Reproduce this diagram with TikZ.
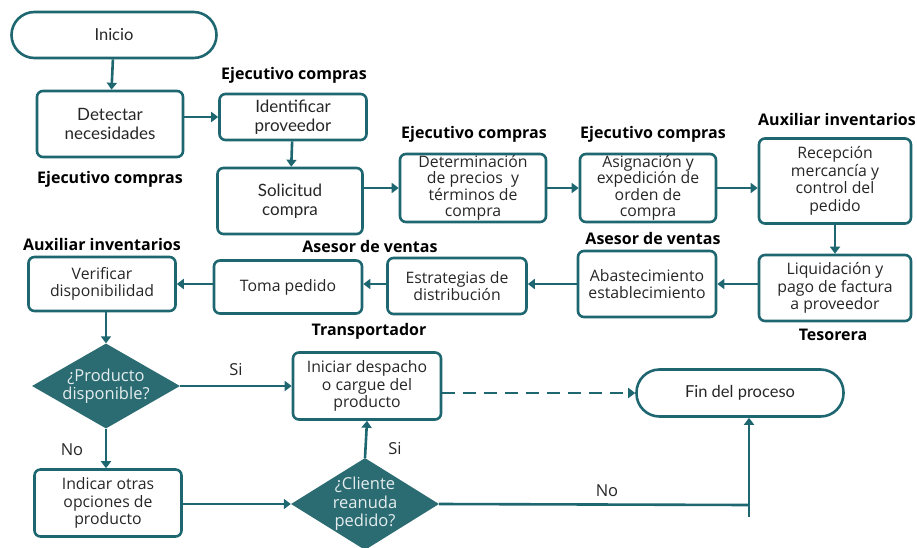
\documentclass[tikz,border=0pt]{standalone}
\usepackage{fontspec}
\setmainfont{Open Sans}
\newfontfamily\latofont{Lato}
\usetikzlibrary{arrows.meta,shapes.geometric}
\definecolor{teal1}{HTML}{1E6770}
\definecolor{tealfill}{HTML}{2B6B72}
\definecolor{txt}{HTML}{262626}
\tikzset{
  x=1pt, y=-1pt,
  box/.style={draw=teal1, line width=2.6pt, rounded corners=6pt, align=center,
    inner sep=1pt, font=\fontsize{15.8}{17.6}\selectfont, text=txt},
  tightbox/.style={box, inner sep=0pt, font=\fontsize{15.8}{16.4}\selectfont},
  lbox/.style={box, font=\latofont\fontsize{17}{18.5}\selectfont},
  term/.style={box, rounded corners=23pt, font=\latofont\fontsize{16.5}{18}\selectfont},
  dec/.style={diamond, fill=tealfill, draw=none, inner sep=0pt},
  dectext/.style={align=center, inner sep=0pt, font=\fontsize{16.5}{18.5}\selectfont, text=white!88!teal1},
  role/.style={font=\bfseries\fontsize{16}{18}\selectfont, text=black},
  lbl/.style={font=\fontsize{16.5}{18}\selectfont, text=txt},
  flow/.style={draw=teal1, line width=2.6pt, -{Triangle[length=7pt,width=10pt]}},
  plain/.style={draw=teal1, line width=2.6pt}
}
\begin{document}
\begin{tikzpicture}
\useasboundingbox (0,0) rectangle (917,548);
\begin{scope}
\clip (0,0) rectangle (917,548);

% process steps
\node[term, minimum width=205pt, minimum height=46pt] (ini) at (114,35) {Inicio};
\node[lbox, minimum width=146pt, minimum height=66pt] (det) at (110,124) {Detectar\\necesidades};
\node[lbox, minimum width=147pt, minimum height=46pt] (ide) at (293,117) {Identificar\\proveedor};
\node[lbox, minimum width=145pt, minimum height=66pt] (sol) at (290,201) {Solicitud\\compra};
\node[tightbox, minimum width=146pt, minimum height=68pt] (pre) at (473,188) {Determinación\\de precios\ \ y\\términos de\\compra};
\node[tightbox, minimum width=136pt, minimum height=68pt] (asi) at (648,188) {Asignación y\\expedición de\\orden de\\compra};
\node[box, minimum width=152pt, minimum height=85pt] (rec) at (835,181) {Recepción\\mercancía y\\control del\\pedido};
\node[box, minimum width=152pt, minimum height=66pt] (liq) at (835,288) {Liquidación y\\pago de factura\\a proveedor};
\node[box, minimum width=138pt, minimum height=66pt] (aba) at (647,284) {Abastecimiento\\establecimiento};
\node[box, minimum width=139pt, minimum height=56pt] (est) at (457,286) {Estrategias de\\distribución};
\node[box, minimum width=148pt, minimum height=53pt] (tom) at (288,287) {Toma pedido};
\node[box, minimum width=147pt, minimum height=54pt] (ver) at (102,284) {Verificar\\disponibilidad};
\node[dec, minimum width=148pt, minimum height=85pt,
  label={[dectext]center:{¿Producto\\disponible?}}] (d1) at (106,386) {};
\node[box, minimum width=148pt, minimum height=67pt] (des) at (367,386) {Iniciar despacho\\o cargue del\\producto};
\node[term, minimum width=207pt, minimum height=47pt] (fin) at (740,393) {Fin del proceso};
\node[box, minimum width=147pt, minimum height=67pt] (ind) at (108,503) {Indicar otras\\opciones de\\producto};
\node[dec, minimum width=148pt, minimum height=92pt,
  label={[dectext]center:{¿Cliente\\reanuda\\pedido?}}] (d2) at (365,504) {};

% responsible roles
\node[role] (r1) at (110,179) {Ejecutivo compras};
\node[role] (r2) at (294,75) {Ejecutivo compras};
\node[role] (r3) at (474,134) {Ejecutivo compras};
\node[role] (r4) at (653,134) {Ejecutivo compras};
\node[role] (r5) at (837,120) {Auxiliar inventarios};
\node[role] (r6) at (833,335) {Tesorera};
\node[role] (r7) at (653,238) {Asesor de ventas};
\node[role] (r8) at (370,246) {Asesor de ventas};
\node[role] (r9) at (102,244) {Auxiliar inventarios};
\node[role] (r10) at (369,331) {Transportador};

% connectors
\draw[flow] (ini) -- (det);
\draw[flow] (det.east |- ide) -- (ide.west);
\draw[flow] (ide) -- (sol);
\draw[flow] (sol.east |- pre) -- (pre.west);
\draw[flow] (pre) -- (asi);
\draw[flow] (asi.east) -- (rec.west |- asi.east);
\draw[flow] (rec) -- (liq);
\draw[flow] (liq.west |- aba) -- (aba.east);
\draw[flow] (aba.west) -- (est.east |- aba.west);
\draw[flow] (est.west |- aba.west) -- (tom.east |- aba.west);
\draw[flow] (tom.west |- aba.west) -- (ver.east |- aba.west);
\draw[flow] (ver.south -| d1.north) -- (d1.north);
\draw[flow] (d1.east) -- node[lbl, above=6pt] (si1) {Si} (des.west |- d1.east);
\draw[flow] (d1.south) -- (d1.south |- ind.north);
\node[lbl] (no1) at (72,450) {No};
\draw[flow] (ind.east |- d2) -- (d2.west);
\draw[flow] (d2.north) -- (des.south);
\node[lbl] (si2) at (395,449) {Si};
\draw[flow, dashed, dash pattern=on 13pt off 8pt] (des.east |- fin) -- (fin.west);
\coordinate (jn) at (749,505);
\coordinate (jt) at (749,517);
\draw[plain] (d2.east) -- (jn);
\node[lbl] (no2) at (607,491) {No};
\draw[flow] (jt) -- (jt |- fin.south);
\end{scope}
\end{tikzpicture}
\end{document}
